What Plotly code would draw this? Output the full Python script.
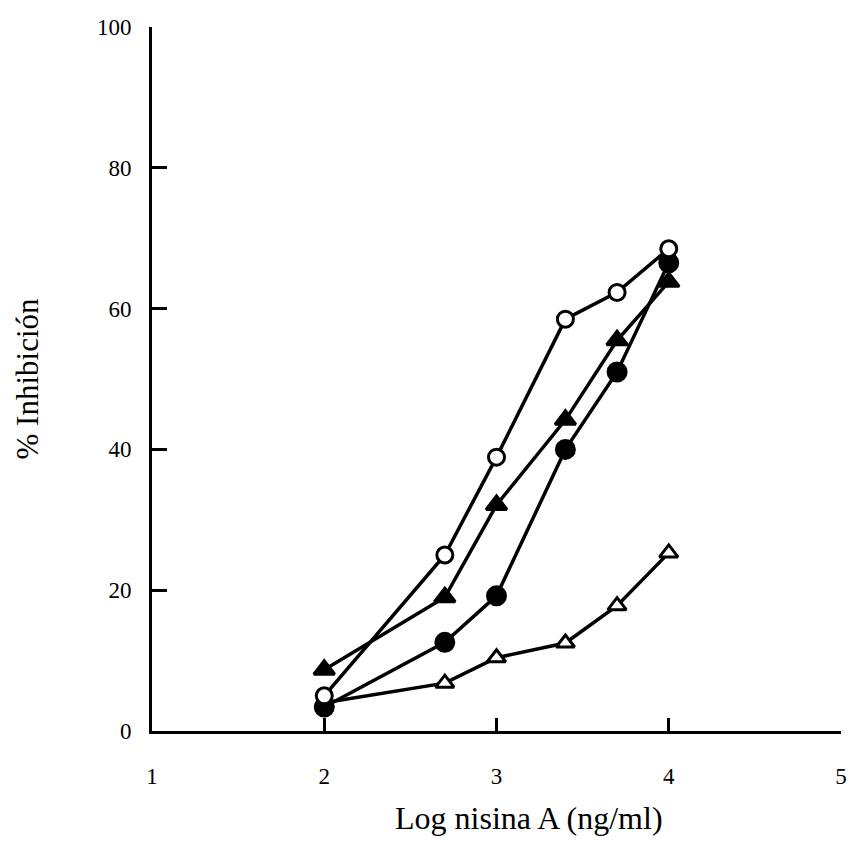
import plotly.graph_objects as go

# Log concentration of nisin A (ng/ml)
log_conc = [2.0, 2.7, 3.0, 3.4, 3.7, 4.0]

# % inhibition for each series
open_triangles = [4.0, 6.8, 10.4, 12.5, 17.8, 25.3]
filled_circles = [3.4, 12.6, 19.2, 40.0, 51.0, 66.5]
filled_triangles = [8.7, 19.0, 32.1, 44.2, 55.5, 63.8]
open_circles = [5.0, 25.0, 38.9, 58.5, 62.3, 68.5]

x_ticks = [1, 2, 3, 4, 5]
y_ticks = [0, 20, 40, 60, 80, 100]

FONT = "Liberation Serif, Times New Roman, serif"

fig = go.Figure()

series = [
    (open_triangles, "triangle-up", "white", 16),
    (filled_circles, "circle", "black", 18),
    (filled_triangles, "triangle-up", "black", 18),
    (open_circles, "circle", "white", 16),
]
for ys, sym, fill, size in series:
    fig.add_trace(go.Scatter(
        x=log_conc, y=ys, mode="lines+markers",
        line=dict(color="black", width=3.5),
        marker=dict(symbol=sym, size=size, color=fill,
                    line=dict(color="black", width=3)),
        showlegend=False, cliponaxis=False,
    ))

fig.update_xaxes(
    range=[1, 5], tickmode="array", tickvals=x_ticks,
    ticktext=[str(v) for v in x_ticks],
    showline=True, linecolor="black", linewidth=3,
    ticks="inside", ticklen=13, tickwidth=3, tickcolor="black",
    ticklabelstandoff=22,
    showgrid=False, zeroline=False,
    tickfont=dict(family=FONT, size=23, color="black"),
)
fig.update_yaxes(
    range=[0, 100], tickmode="array", tickvals=y_ticks,
    ticktext=[str(v) for v in y_ticks],
    showline=True, linecolor="black", linewidth=3,
    ticks="inside", ticklen=15, tickwidth=3, tickcolor="black",
    ticklabelstandoff=13,
    showgrid=False, zeroline=False,
    tickfont=dict(family=FONT, size=23, color="black"),
    title=dict(text="% Inhibición", standoff=50,
               font=dict(family=FONT, size=31, color="black")),
)

# x-axis title sits slightly right of the plot centre
fig.add_annotation(
    text="Log nisina A (ng/ml)", xref="paper", yref="paper",
    x=0.547, y=-0.124, xanchor="center", yanchor="middle",
    showarrow=False, font=dict(family=FONT, size=32, color="black"),
)

fig.update_layout(
    width=854, height=860,
    margin=dict(l=152, r=7, t=27, b=129),
    paper_bgcolor="white", plot_bgcolor="white",
)

fig.write_html("out.html")
